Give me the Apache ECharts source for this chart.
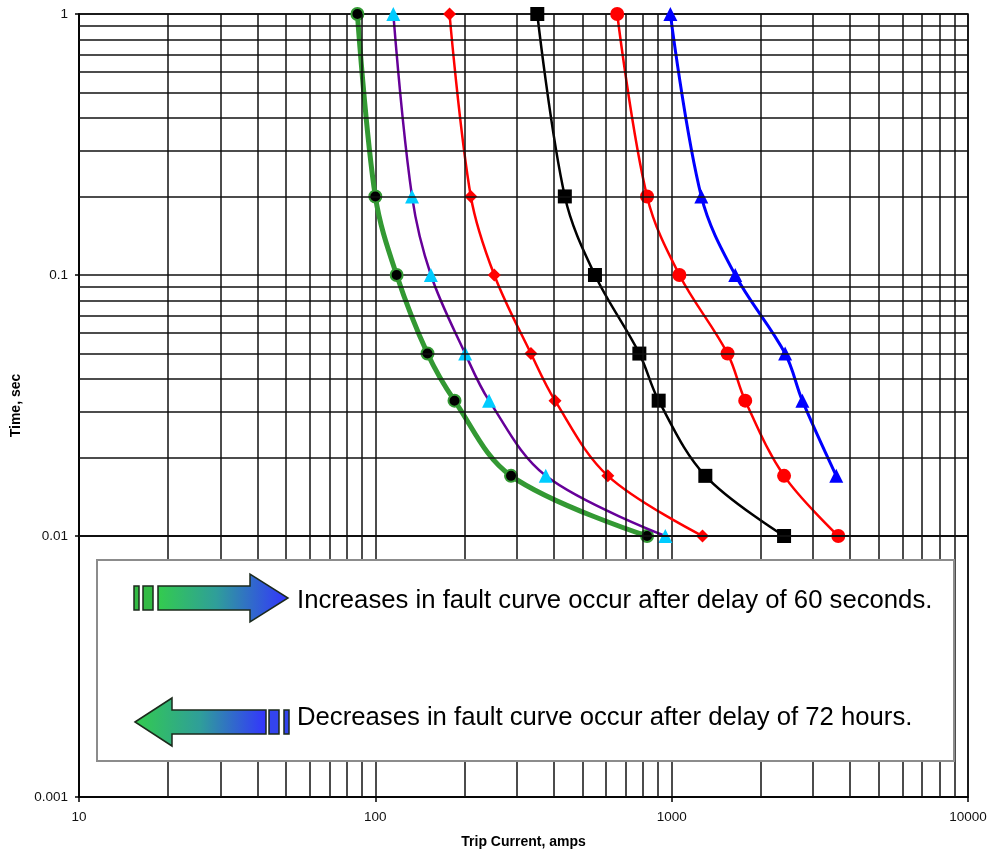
<!DOCTYPE html>
<html>
<head>
<meta charset="utf-8">
<script src="https://cdn.jsdelivr.net/npm/echarts@6/dist/echarts.min.js"></script>
<style>
html,body{margin:0;padding:0;background:#fff;}
#chart{width:988px;height:852px;}
</style>
</head>
<body>
<div id="chart"></div>
<script>
// Time values (sec) for each marked point
const times = [1, 0.2, 0.1, 0.05, 0.033, 0.017, 0.01];
// Trip current (amps) for each curve
const curveGreen  = [87, 100, 118, 150, 185, 287, 826];
const curvePurple = [115, 133, 154, 201, 242, 376, 952];
const curveRedDia = [178, 210, 252, 335, 404, 609, 1271];
const curveBlack  = [352, 436, 551, 778, 904, 1299, 2395];
const curveRedCir = [655, 826, 1062, 1544, 1771, 2395, 3650];
const curveBlue   = [990, 1259, 1639, 2415, 2761, 3593];

const xTickLabels = ['10', '100', '1000', '10000'];
const yTickLabels = ['0.001', '0.01', '0.1', '1'];
const textUp = 'Increases in fault curve occur after delay of 60 seconds.';
const textDown = 'Decreases in fault curve occur after delay of 72 hours.';

function pts(xs) { return xs.map((x, i) => [x, times[i]]); }

// minor grid positions (2..9 within each decade)
const xGrid = [], yGrid = [];
[10, 100, 1000].forEach(d => { for (let m = 2; m <= 9; m++) xGrid.push(m * d); });
[0.001, 0.01, 0.1].forEach(d => { for (let m = 2; m <= 9; m++) yGrid.push(+(m * d).toPrecision(3)); });

const chart = echarts.init(document.getElementById('chart'), null, {renderer: 'canvas'});
const FONT = '"Liberation Sans", Arial, sans-serif';

const gridLineStyle = {color: '#111', width: 1.5, type: 'solid'};

const option = {
  animation: false,
  backgroundColor: '#fff',
  grid: {left: 79, right: 20, top: 14, bottom: 55, containLabel: false, outerBoundsMode: 'none',
    show: true, borderColor: '#000', borderWidth: 1.5, backgroundColor: 'transparent'},
  xAxis: {
    type: 'log', logBase: 10, min: 10, max: 10000,
    name: 'Trip Current, amps', nameLocation: 'middle', nameGap: 38,
    nameTextStyle: {fontFamily: FONT, fontSize: 14, fontWeight: 'bold', color: '#000'},
    axisLine: {show: true, lineStyle: {color: '#000', width: 1.5}},
    axisTick: {show: true, length: 5, lineStyle: {color: '#000', width: 1.5}},
    axisLabel: {fontFamily: FONT, fontSize: 13.5, color: '#111', margin: 13,
      formatter: v => { const i = Math.round(Math.log10(v)) - 1; return xTickLabels[i] || ''; }},
    splitLine: {show: true, lineStyle: gridLineStyle}
  },
  yAxis: {
    type: 'log', logBase: 10, min: 0.001, max: 1,
    name: 'Time, sec', nameLocation: 'middle', nameGap: 53,
    nameTextStyle: {fontFamily: FONT, fontSize: 14, fontWeight: 'bold', color: '#000'},
    axisLine: {show: true, lineStyle: {color: '#000', width: 1.5}},
    axisTick: {show: true, length: 4, lineStyle: {color: '#000', width: 1.5}},
    axisLabel: {fontFamily: FONT, fontSize: 13.5, color: '#111', margin: 11,
      formatter: v => { const i = Math.round(Math.log10(v)) + 3; return yTickLabels[i] || ''; }},
    splitLine: {show: true, lineStyle: gridLineStyle}
  },
  series: [
    {
      type: 'scatter', data: [], z: 1, silent: true,
      markLine: {
        silent: true, symbol: ['none', 'none'], label: {show: false},
        lineStyle: gridLineStyle, emphasis: {disabled: true},
        data: xGrid.map(v => ({xAxis: v})).concat(yGrid.map(v => ({yAxis: v})))
      }
    },
    {
      type: 'line', data: pts(curveGreen), smooth: 0.35, z: 3,
      symbol: 'circle', symbolSize: 12,
      lineStyle: {color: '#339933', width: 5},
      itemStyle: {color: '#000', borderColor: '#339933', borderWidth: 2}
    },
    {
      type: 'line', data: pts(curvePurple), smooth: 0.35, z: 4,
      symbol: 'triangle', symbolSize: 14,
      lineStyle: {color: '#660099', width: 2.5},
      itemStyle: {color: '#00ccff'}
    },
    {
      type: 'line', data: pts(curveRedDia), smooth: 0.35, z: 4,
      symbol: 'diamond', symbolSize: 13,
      lineStyle: {color: '#ff0000', width: 2.5},
      itemStyle: {color: '#ff0000'}
    },
    {
      type: 'line', data: pts(curveBlack), smooth: 0.35, z: 4,
      symbol: 'rect', symbolSize: 14,
      lineStyle: {color: '#000', width: 2.5},
      itemStyle: {color: '#000'}
    },
    {
      type: 'line', data: pts(curveRedCir), smooth: 0.35, z: 4,
      symbol: 'circle', symbolSize: 14,
      lineStyle: {color: '#ff0000', width: 2.5},
      itemStyle: {color: '#ff0000'}
    },
    {
      type: 'line', data: pts(curveBlue), smooth: 0.35, z: 4,
      symbol: 'triangle', symbolSize: 14,
      lineStyle: {color: '#0000ff', width: 3},
      itemStyle: {color: '#0000ff'}
    }
  ]
};
chart.setOption(option);

// Annotation box with arrows
const gradRight = new echarts.graphic.LinearGradient(0, 0, 1, 0, [
  {offset: 0, color: '#33cc4d'}, {offset: 0.45, color: '#2f9e9a'}, {offset: 1, color: '#3333ff'}]);
const gradLeft = new echarts.graphic.LinearGradient(0, 0, 1, 0, [
  {offset: 0, color: '#33cc4d'}, {offset: 0.5, color: '#2f9e9a'}, {offset: 1, color: '#3333ff'}]);
const outline = {stroke: '#1c2a1c', lineWidth: 1.5};

chart.setOption({
  graphic: [
    {type: 'rect', z: 100, shape: {x: 97, y: 560, width: 857, height: 201},
      style: {fill: '#fff', stroke: '#8c8c8c', lineWidth: 2}},
    // right-pointing arrow
    {type: 'rect', z: 101, shape: {x: 134, y: 586, width: 5, height: 24}, style: Object.assign({fill: '#33bb44'}, outline)},
    {type: 'rect', z: 101, shape: {x: 143, y: 586, width: 10, height: 24}, style: Object.assign({fill: '#33bb44'}, outline)},
    {type: 'polygon', z: 101, shape: {points: [[158, 586], [250, 586], [250, 574], [288, 598], [250, 622], [250, 610], [158, 610]]},
      style: Object.assign({fill: gradRight}, outline)},
    {type: 'text', z: 101, left: 297, top: 588,
      style: {text: textUp, fontFamily: FONT, fontSize: 25.7, fill: '#000'}},
    // left-pointing arrow
    {type: 'polygon', z: 101, shape: {points: [[135, 722], [172, 698], [172, 710], [266, 710], [266, 734], [172, 734], [172, 746]]},
      style: Object.assign({fill: gradLeft}, outline)},
    {type: 'rect', z: 101, shape: {x: 269, y: 710, width: 10, height: 24}, style: Object.assign({fill: '#3344ee'}, outline)},
    {type: 'rect', z: 101, shape: {x: 284, y: 710, width: 5, height: 24}, style: Object.assign({fill: '#3344ee'}, outline)},
    {type: 'text', z: 101, left: 297, top: 705,
      style: {text: textDown, fontFamily: FONT, fontSize: 25.7, fill: '#000'}}
  ]
});
</script>
</body>
</html>
